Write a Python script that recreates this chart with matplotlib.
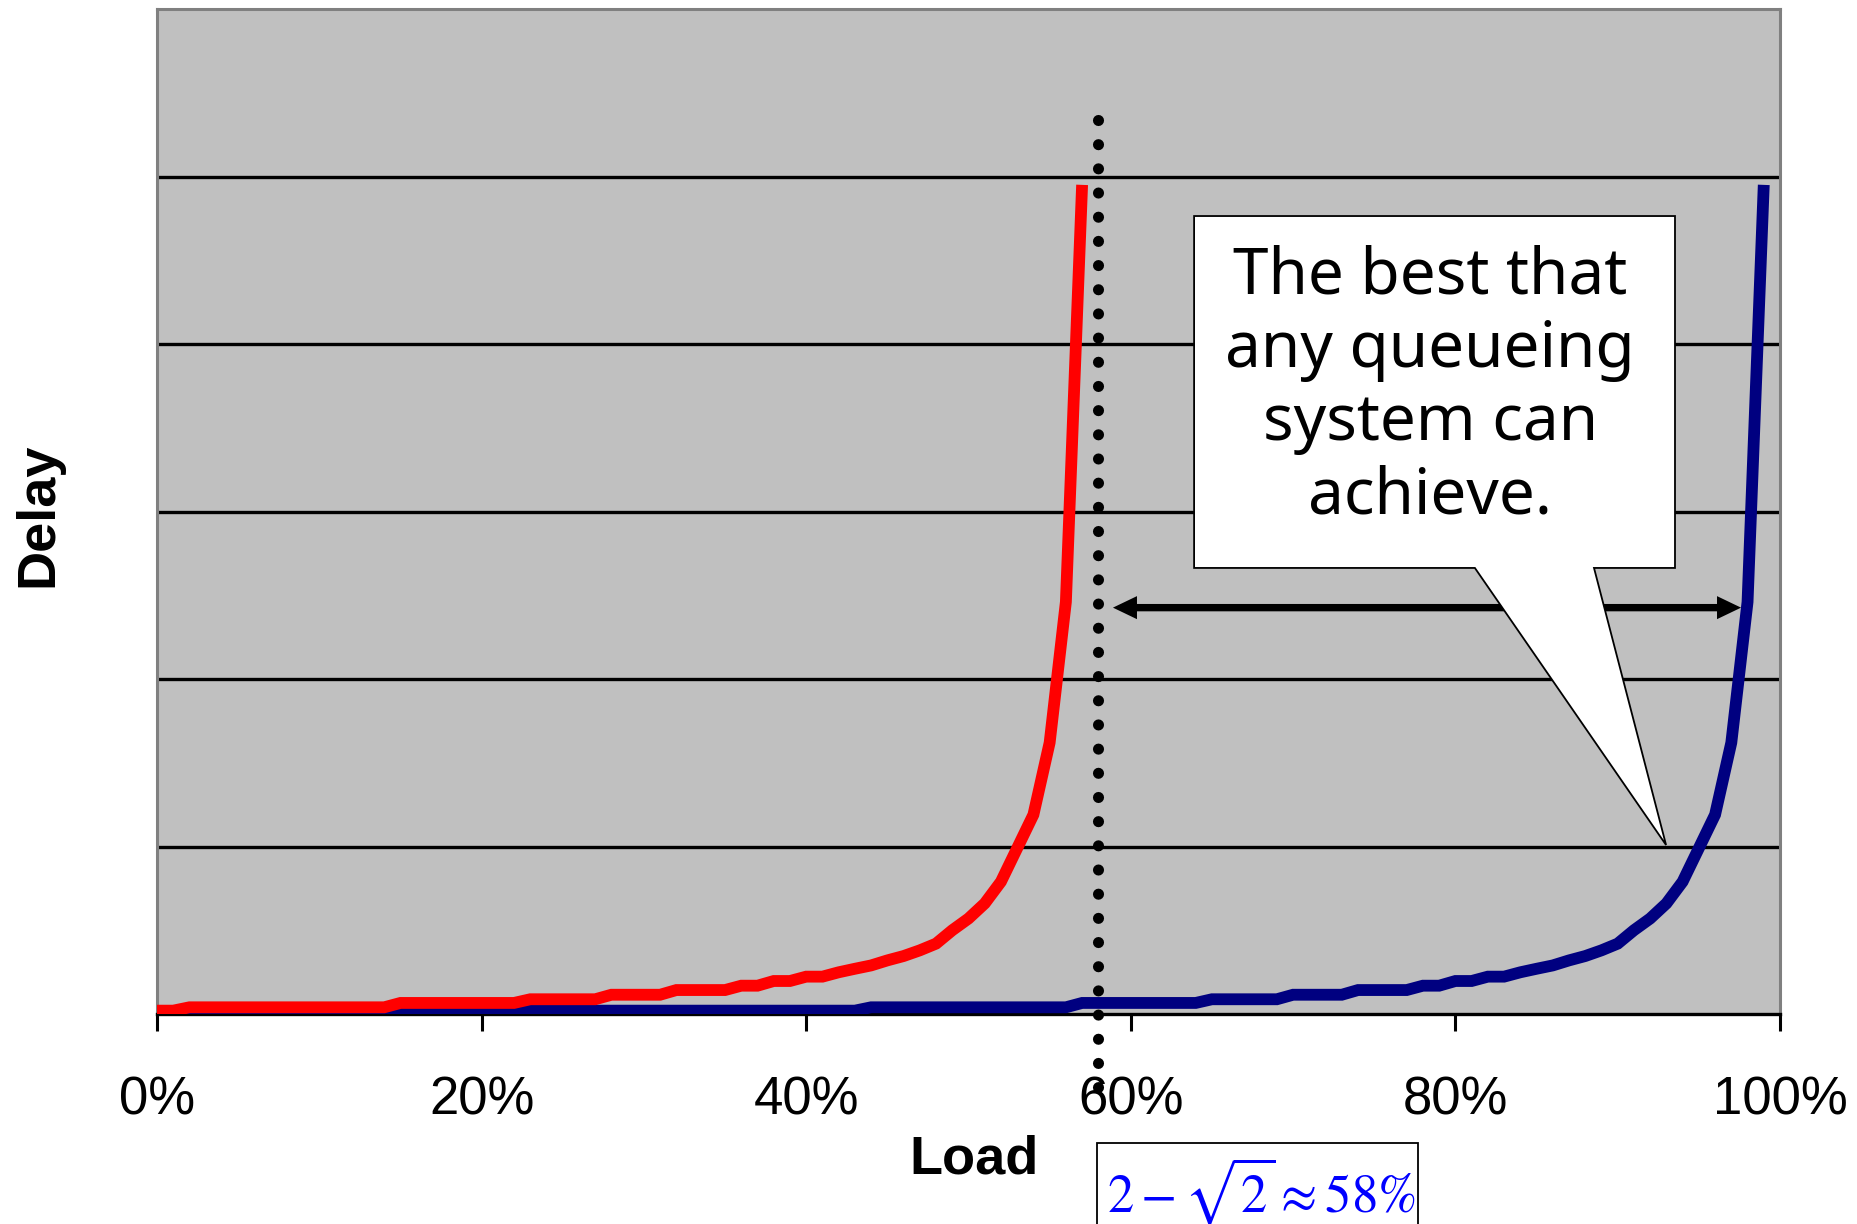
import matplotlib
matplotlib.use("Agg")
import matplotlib.pyplot as plt
from matplotlib.patches import Polygon, Rectangle, FancyArrowPatch, ArrowStyle

plt.rcParams['mathtext.fontset'] = 'stix'

# Load (%) sampled every 1 percent
blue_load = list(range(0, 100))
red_load = list(range(0, 58))

# Delay of the ideal (output-queued) system, blows up near 100% load
blue_delay = [
    0.0, 0.0, 0.0, 0.0, 0.0, 0.0, 0.0, 0.0, 0.0, 0.0,
    0.0, 0.0, 0.0, 0.0, 0.0, 0.01, 0.01, 0.01, 0.01, 0.01,
    0.01, 0.01, 0.01, 0.02, 0.02, 0.02, 0.02, 0.02, 0.02, 0.02,
    0.02, 0.02, 0.02, 0.02, 0.02, 0.02, 0.02, 0.02, 0.02, 0.02,
    0.02, 0.02, 0.02, 0.02, 0.04, 0.04, 0.04, 0.04, 0.04, 0.04,
    0.04, 0.04, 0.04, 0.04, 0.04, 0.04, 0.04, 0.066, 0.066, 0.066,
    0.066, 0.066, 0.066, 0.066, 0.066, 0.088, 0.088, 0.088, 0.088, 0.088,
    0.115, 0.115, 0.115, 0.115, 0.143, 0.143, 0.143, 0.143, 0.169, 0.169,
    0.197, 0.197, 0.223, 0.223, 0.249, 0.27, 0.29, 0.32, 0.346, 0.38,
    0.42, 0.50, 0.57, 0.66, 0.79, 0.99, 1.19, 1.62, 2.46, 4.95,
]

# Delay of the maximal-matching scheduler, blows up near 58% load
red_delay = [
    0.02, 0.02, 0.04, 0.04, 0.04, 0.04, 0.04, 0.04, 0.04, 0.04,
    0.04, 0.04, 0.04, 0.04, 0.04, 0.066, 0.066, 0.066, 0.066, 0.066,
    0.066, 0.066, 0.066, 0.088, 0.088, 0.088, 0.088, 0.088, 0.115, 0.115,
    0.115, 0.115, 0.143, 0.143, 0.143, 0.143, 0.169, 0.169, 0.197, 0.197,
    0.223, 0.223, 0.249, 0.27, 0.29, 0.32, 0.346, 0.38, 0.42, 0.50,
    0.57, 0.66, 0.79, 0.99, 1.19, 1.62, 2.46, 4.95,
]

x_ticks = [0, 20, 40, 60, 80, 100]
x_tick_labels = ["0%", "20%", "40%", "60%", "80%", "100%"]
grid_levels = [1, 2, 3, 4, 5]
threshold_load = 58

W, H = 1858, 1224
fig = plt.figure(figsize=(W / 100, H / 100), dpi=100)
ax = fig.add_axes([157 / W, 1 - 1014 / H, (1780 - 157) / W, (1014 - 9) / H])
ax.set_facecolor('#C0C0C0')
ax.set_xlim(0, 100)
ax.set_ylim(0, 6)

# horizontal gridlines
ax.set_yticks(grid_levels)
ax.yaxis.grid(True, color='black', linewidth=2.4)
ax.set_axisbelow(True)
ax.tick_params(axis='y', length=0, labelleft=False)

# x axis
ax.set_xticks(x_ticks)
ax.set_xticklabels(x_tick_labels)
ax.tick_params(axis='x', direction='out', length=12, width=2.2, color='black',
               pad=32, labelsize=38)
for lab in ax.get_xticklabels():
    lab.set_family('Liberation Sans')

for side in ('left', 'top', 'right'):
    ax.spines[side].set_color('#808080')
    ax.spines[side].set_linewidth(2.2)
ax.spines['bottom'].set_color('black')
ax.spines['bottom'].set_linewidth(2.4)

# curves
ax.plot(blue_load, blue_delay, color='#000080', linewidth=8.5,
        solid_joinstyle='miter', solid_capstyle='butt', zorder=3)
ax.plot(red_load, red_delay, color='#FF0000', linewidth=8.5,
        solid_joinstyle='miter', solid_capstyle='butt', zorder=4)

# double-headed arrow between the two asymptotes
y_arrow = 2.426
x_left, x_right = 58.9, 97.6
x_mid = (x_left + x_right) / 2
style = ArrowStyle.Simple(head_length=17.3, head_width=16.6, tail_width=5.3)
for end in (x_left, x_right):
    ax.add_patch(FancyArrowPatch((x_mid, y_arrow), (end, y_arrow), arrowstyle=style,
                                 mutation_scale=1, color='black', linewidth=0,
                                 shrinkA=0, shrinkB=0, zorder=2.5))

# callout bubble
callout = [
    (63.9, 4.764), (93.53, 4.764), (93.53, 2.663), (88.54, 2.663),
    (92.98, 1.009), (81.2, 2.663), (63.9, 2.663),
]
ax.add_patch(Polygon(callout, closed=True, facecolor='white', edgecolor='black',
                     linewidth=1.3, zorder=6))
ax.text(78.44, 3.746, "The best that\nany queueing\nsystem can\nachieve.",
        ha='center', va='center', multialignment='center', fontsize=46,
        family='Noto Sans', linespacing=1.19, zorder=7)

# dotted threshold line
ax.plot([threshold_load, threshold_load], [5.337, -0.55], color='black',
        linewidth=8, linestyle=(0, (0.001, 2.175)), dash_capstyle='round',
        clip_on=False, zorder=8)

# axis titles
fig.text(38 / W, 1 - 515 / H, "Delay", rotation=90, ha='center', va='center',
         fontsize=39, fontweight='bold', family='Liberation Sans')
fig.text(974 / W, 1 - 1160 / H, "Load", ha='center', va='center',
         fontsize=39, fontweight='bold', family='Liberation Sans')

# formula box
fig.patches.append(Rectangle((1097 / W, -0.02), (1418 - 1097) / W, (1224 - 1143) / H + 0.02,
                             transform=fig.transFigure, facecolor='white',
                             edgecolor='black', linewidth=1.3, figure=fig))
fig.text(1261 / W, 12 / H, r'$2-\sqrt{2}\approx 58\%$', ha='center', va='baseline',
         fontsize=38, color='#0000FF')

fig.savefig('out.png', dpi=100)
